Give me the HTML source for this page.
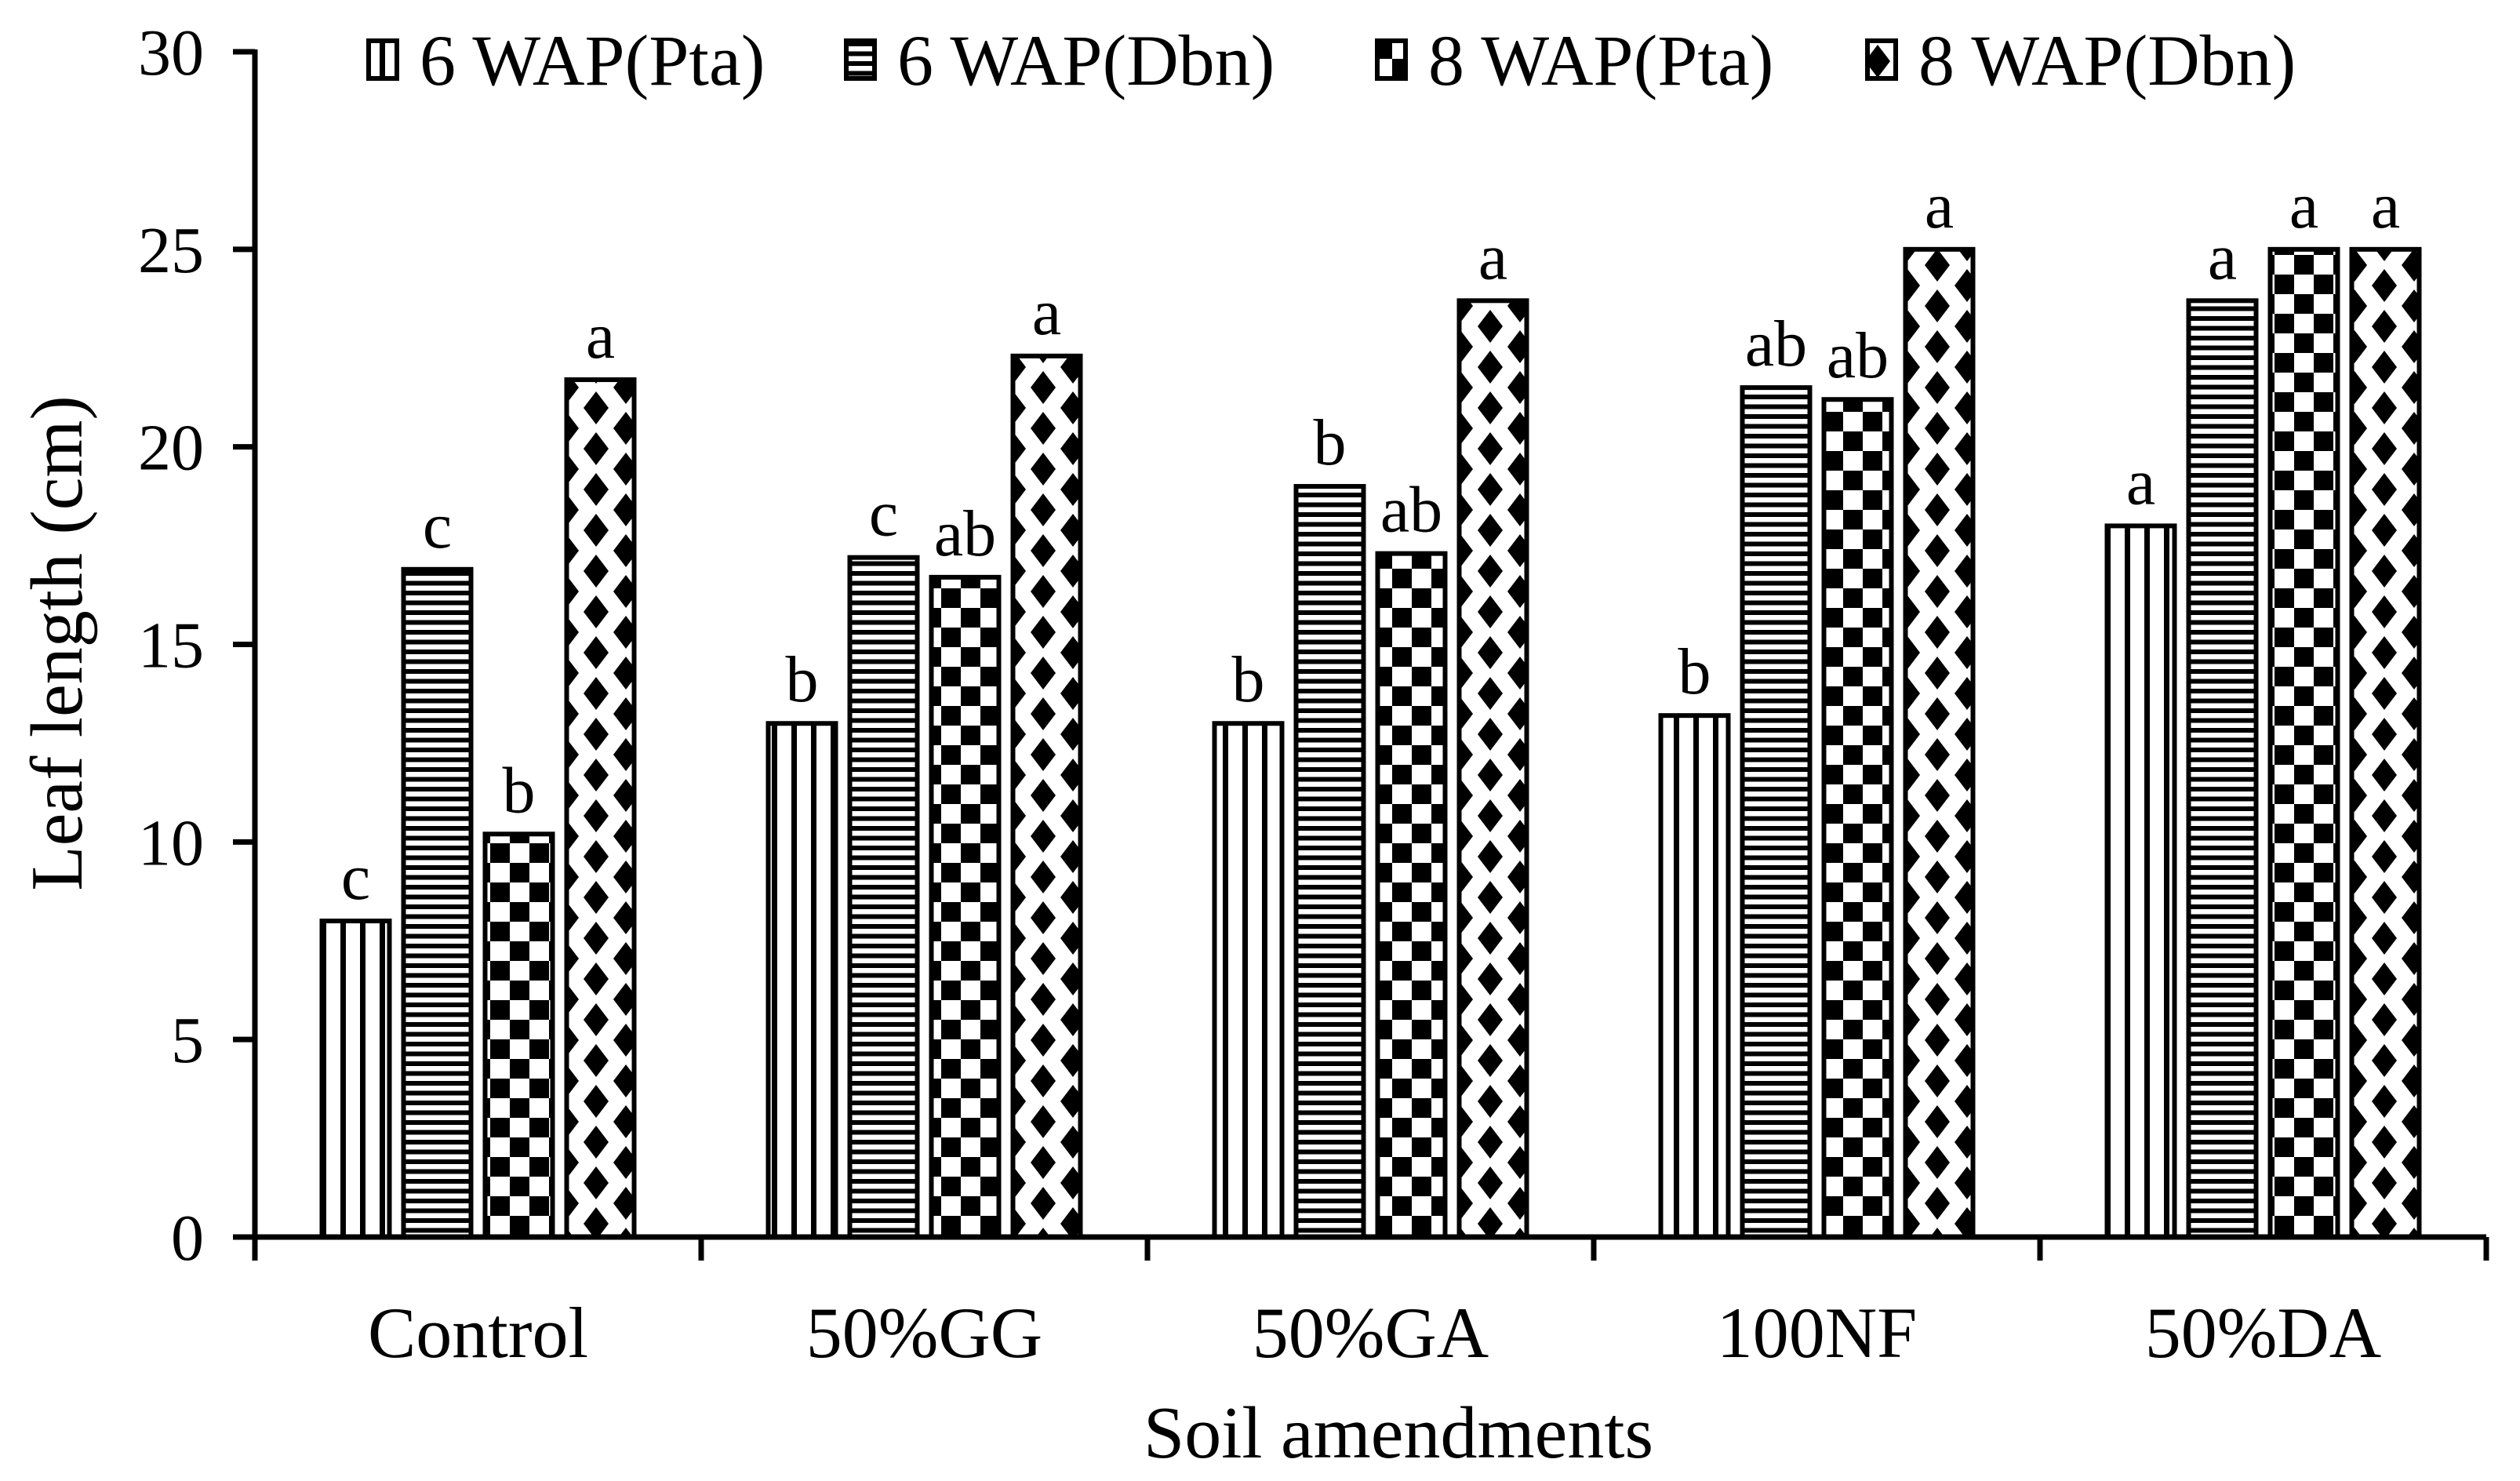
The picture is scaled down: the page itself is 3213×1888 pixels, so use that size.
<!DOCTYPE html>
<html><head><meta charset="utf-8"><style>
html,body{margin:0;padding:0;background:#fff;}
svg{display:block;}
text{font-family:"Liberation Serif",serif;fill:#000;}
</style></head><body>
<svg id="chart" width="3213" height="1888" viewBox="0 0 3213 1888" xmlns="http://www.w3.org/2000/svg">
<defs>
<pattern id="p0" patternUnits="userSpaceOnUse" width="25" height="25"><rect width="25" height="25" fill="#fff"/><rect x="9" width="7" height="25" fill="#000"/></pattern>
<pattern id="p1" patternUnits="userSpaceOnUse" width="25" height="12.5"><rect width="25" height="12.5" fill="#fff"/><rect y="3" width="25" height="6" fill="#000"/></pattern>
<pattern id="p2" patternUnits="userSpaceOnUse" width="50" height="50"><rect width="50" height="50" fill="#fff"/><rect width="25" height="25" fill="#000"/><rect x="25" y="25" width="25" height="25" fill="#000"/></pattern>
<pattern id="p3" patternUnits="userSpaceOnUse" width="76" height="52"><rect width="76" height="52" fill="#fff"/><polygon points="38,5 54,26 38,47 22,26" fill="#000"/><polygon points="0,-21 16,0 0,21 -16,0" fill="#000"/><polygon points="76,-21 92,0 76,21 60,0" fill="#000"/><polygon points="0,31 16,52 0,73 -16,52" fill="#000"/><polygon points="76,31 92,52 76,73 60,52" fill="#000"/></pattern>
</defs>
<g id="plot"></g>
</svg>
<script>
const categories = ["Control","50%GG","50%GA","100NF","50%DA"];
const seriesNames = ["6 WAP(Pta)","6 WAP(Dbn)","8 WAP(Pta)","8 WAP(Dbn)"];
const s6Pta = [8.0,13.0,13.0,13.2,18.0];
const s6Dbn = [16.9,17.2,19.0,21.5,23.7];
const s8Pta = [10.2,16.7,17.3,21.2,25.0];
const s8Dbn = [21.7,22.3,23.7,25.0,25.0];
const lbl6Pta = ["c","b","b","b","a"];
const lbl6Dbn = ["c","c","b","ab","a"];
const lbl8Pta = ["b","ab","ab","ab","a"];
const lbl8Dbn = ["a","a","a","a","a"];
const yTicks = [0,5,10,15,20,25,30];

const series=[s6Pta,s6Dbn,s8Pta,s8Dbn];
const labels=[lbl6Pta,lbl6Dbn,lbl8Pta,lbl8Dbn];
const NS="http://www.w3.org/2000/svg";
const g=document.getElementById('plot');
const X0=325,X1=3170,Y0=1577,Y30=66;
const y=v=>Y0-(v/30)*(Y0-Y30);
const cw=(X1-X0)/categories.length;
function el(t,a,p){const e=document.createElementNS(NS,t);for(const k in a)e.setAttribute(k,a[k]);(p||g).appendChild(e);return e;}
const barW=86,pitch=104;
series.forEach((s,si)=>{
  s.forEach((v,ci)=>{
    const cx=X0+cw*(ci+0.5);
    const bx=cx-2*pitch+si*pitch+(pitch-barW)/2;
    const r=el('rect',{x:bx,y:y(v),width:barW,height:Y0-y(v),fill:'url(#p'+si+')',stroke:'#000','stroke-width':6});
    
    
    const t=el('text',{x:bx+barW/2,y:y(v)-28,'text-anchor':'middle','font-size':84});
    t.textContent=labels[si][ci];
    
    
  });
});
const ya=el('line',{x1:X0,y1:Y30-3,x2:X0,y2:Y0+3,stroke:'#000','stroke-width':7});


const xa=el('line',{x1:X0-28,y1:Y0,x2:X1,y2:Y0,stroke:'#000','stroke-width':7});


yTicks.forEach(v=>{
  el('line',{x1:X0-28,y1:y(v),x2:X0,y2:y(v),stroke:'#000','stroke-width':7});
  const t=el('text',{x:X0-65,y:y(v)+29,'text-anchor':'end','font-size':84});
  t.textContent=v;
  
  
});
for(let i=0;i<=categories.length;i++){el('line',{x1:X0+cw*i,y1:Y0,x2:X0+cw*i,y2:Y0+30,stroke:'#000','stroke-width':7});}
categories.forEach((c,i)=>{
  const t=el('text',{x:X0+cw*(i+0.5),y:1730,'text-anchor':'middle','font-size':92});
  t.textContent=c;
  
  
});
const xt=el('text',{x:1783,y:1858,'text-anchor':'middle','font-size':94});
xt.textContent='Soil amendments';


const yt=el('text',{x:0,y:0,'text-anchor':'middle','font-size':94,transform:'translate(104,820) rotate(-90)'});
yt.textContent='Leaf length (cm)';


const lx=[467,1076,1753,2378];
seriesNames.forEach((n,i)=>{
  const r=el('rect',{x:lx[i]+3,y:52,width:36,height:48,fill:'url(#p'+i+')',stroke:'#000','stroke-width':6});
  
  
  const t=el('text',{x:lx[i]+68,y:108,'font-size':92});
  t.textContent=n;
  
  
});
</script>
</body></html>
